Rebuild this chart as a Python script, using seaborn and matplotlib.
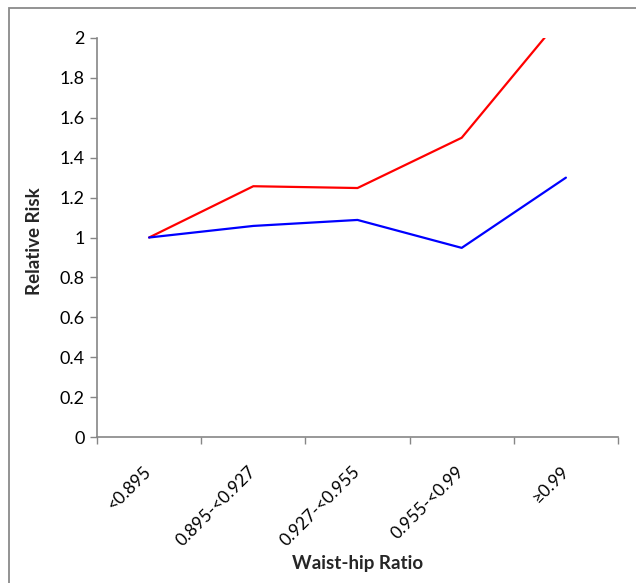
import matplotlib
matplotlib.use("Agg")
import matplotlib.pyplot as plt
import seaborn as sns
import pandas as pd
from matplotlib.patches import Rectangle

# values
categories = ["<0.895", "0.895-<0.927", "0.927-<0.955", "0.955-<0.99", "\u22650.99"]
red_rr = [1.0, 1.257, 1.248, 1.50, 2.13]
blue_rr = [1.0, 1.058, 1.088, 0.948, 1.30]
y_ticks = [0, 0.2, 0.4, 0.6, 0.8, 1.0, 1.2, 1.4, 1.6, 1.8, 2.0]
y_tick_labels = ["0", "0.2", "0.4", "0.6", "0.8", "1", "1.2", "1.4", "1.6", "1.8", "2"]

sns.set_theme(style="white")
plt.rcParams["font.family"] = ["Lato", "DejaVu Sans"]

df = pd.DataFrame({
    "ratio": categories * 2,
    "rr": red_rr + blue_rr,
    "series": ["red"] * len(categories) + ["blue"] * len(categories),
})

fig = plt.figure(figsize=(6.36, 5.83), dpi=100)
ax = fig.add_axes([97 / 636, 1 - 437 / 583, (618 - 97) / 636, (437 - 38) / 583])

sns.lineplot(data=df, x="ratio", y="rr", hue="series",
             palette={"red": "#FF0000", "blue": "#0000FF"},
             linewidth=1.6, legend=False, ax=ax, sort=False)

ax.set_xlim(-0.5, len(categories) - 0.5)
ax.set_ylim(0, 2)
ax.set_yticks(y_ticks)
ax.set_yticklabels(y_tick_labels)

ax.set_xticks(range(len(categories)))
ax.set_xticks([i - 0.5 for i in range(len(categories) + 1)], minor=True)
ax.set_xticklabels(categories, rotation=45, ha="right", va="center",
                   rotation_mode="anchor")
ax.tick_params(axis="x", which="major", length=0, pad=23, labelsize=12.5, colors="black")
ax.tick_params(axis="x", which="minor", length=5, width=1, color="#868686", bottom=True)
ax.tick_params(axis="y", length=5, width=1, color="#868686", left=True, labelsize=13,
               pad=4, labelcolor="black")

for side in ["top", "right"]:
    ax.spines[side].set_visible(False)
for side in ["left", "bottom"]:
    ax.spines[side].set_color("#868686")
    ax.spines[side].set_linewidth(1.2)

ax.set_xlabel("Waist-hip Ratio", fontsize=13.5, fontweight="bold")
ax.set_ylabel("Relative Risk", fontsize=13.5, fontweight="bold")
ax.xaxis.set_label_coords(0.5, -(555 - 437) / 399)
ax.yaxis.set_label_coords(-(97 - 43) / 521, 0.49)

# outer chart border (only left and top visible in the reference)
fig.patches.append(Rectangle((9 / 636, -0.05), 1.2, 1 - 8 / 583 + 0.05,
                             transform=fig.transFigure, fill=False,
                             edgecolor="#8A8A8A", linewidth=1.3))

fig.savefig("out.png", dpi=100)
